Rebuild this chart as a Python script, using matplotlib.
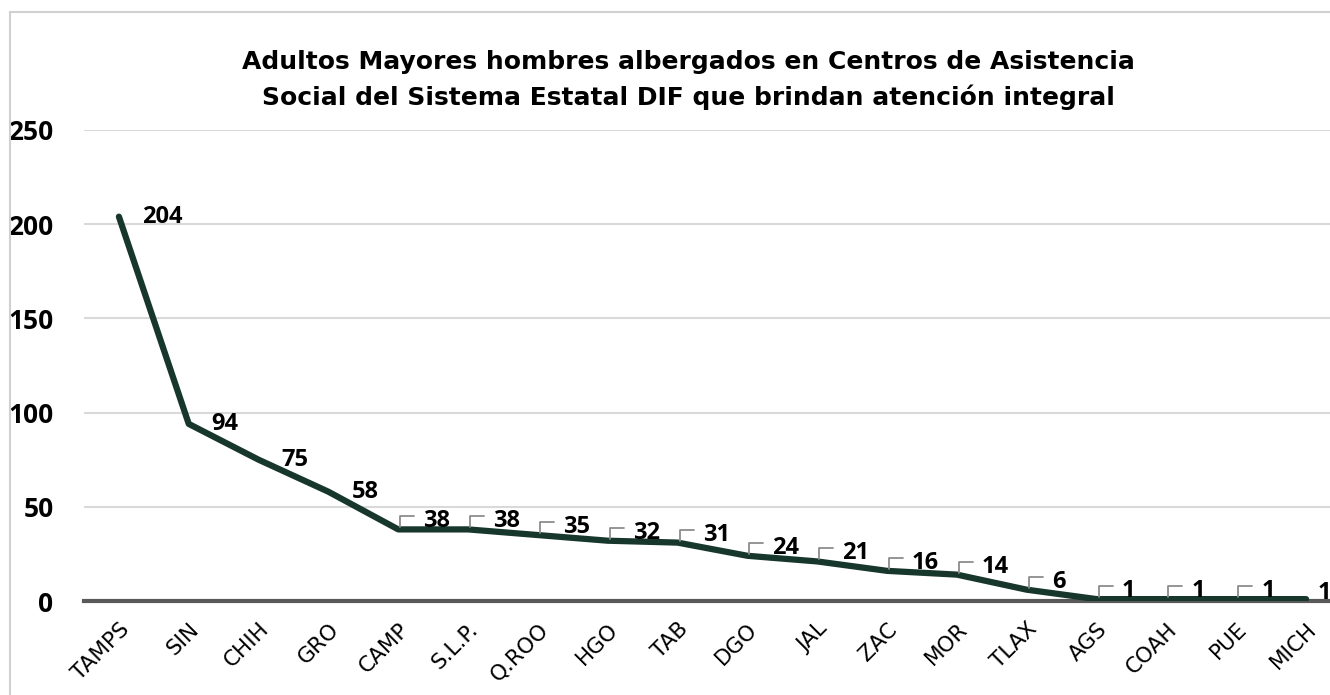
import matplotlib.pyplot as plt
from matplotlib.patches import Rectangle
from matplotlib.transforms import offset_copy

# datos
estados = ["TAMPS", "SIN", "CHIH", "GRO", "CAMP", "S.L.P.", "Q.ROO", "HGO", "TAB",
           "DGO", "JAL", "ZAC", "MOR", "TLAX", "AGS", "COAH", "PUE", "MICH"]
hombres = [204, 94, 75, 58, 38, 38, 35, 32, 31, 24, 21, 16, 14, 6, 1, 1, 1, 1]
yticks = [0, 50, 100, 150, 200, 250]

titulo = ("Adultos Mayores hombres albergados en Centros de Asistencia\n"
          "Social del Sistema Estatal DIF que brindan atención integral")

verde = "#17372d"

fig = plt.figure(figsize=(13.3, 6.95), dpi=100)
ax = fig.add_axes([84 / 1330, 1 - 601 / 695, (1341 - 84) / 1330, (601 - 130) / 695])

x = list(range(len(estados)))
ax.plot(x, hombres, color=verde, linewidth=4.5, solid_joinstyle="round",
        solid_capstyle="round", zorder=3)

ax.set_xlim(-0.5, len(estados) - 0.5)
ax.set_ylim(0, 250)
ax.set_yticks(yticks)
ax.set_yticklabels([str(t) for t in yticks], fontfamily="Open Sans",
                   fontweight="bold", fontsize=19)
ax.set_xticks(x)
ax.set_xticklabels(estados, rotation=45, ha="right", rotation_mode="anchor",
                   fontfamily="DejaVu Sans", fontsize=15.5)
ax.tick_params(axis="y", length=0, pad=22)
ax.tick_params(axis="x", length=0, pad=13)
ax.grid(axis="y", color="#d9d9d9", linewidth=1.5)
ax.set_axisbelow(True)
for s in ["top", "right", "left"]:
    ax.spines[s].set_visible(False)
ax.spines["bottom"].set_color("#595959")
ax.spines["bottom"].set_linewidth(3)
ax.spines["bottom"].set_zorder(2)

# etiquetas de datos
for i, v in enumerate(hombres):
    if i < 4:
        ax.annotate(str(v), (i, v), xytext=(23, 0), textcoords="offset pixels",
                    ha="left", va="center", fontfamily="Open Sans",
                    fontweight="bold", fontsize=17, zorder=5)
    elif i < len(hombres) - 1:
        ax.annotate(str(v), (i, v), xytext=(25, 8), textcoords="offset pixels",
                    ha="left", va="center", fontfamily="Open Sans",
                    fontweight="bold", fontsize=17, zorder=5)
        ax.annotate("", xy=(i, v),
                    xycoords=offset_copy(ax.transData, fig=fig, x=2, y=2, units="dots"),
                    xytext=(14, 11), textcoords="offset pixels",
                    arrowprops=dict(arrowstyle="-", color="#8c8c8c", lw=1.3,
                                    shrinkA=0, shrinkB=0,
                                    connectionstyle="angle,angleA=0,angleB=90,rad=0"))
    else:
        ax.annotate(str(v), (i, v), xytext=(12, 6), textcoords="offset pixels",
                    ha="left", va="center", fontfamily="Open Sans",
                    fontweight="bold", fontsize=17, zorder=5)

fig.text(688 / 1330, 1 - 80 / 695, titulo, ha="center", va="center",
         fontfamily="DejaVu Sans", fontweight="bold", fontsize=18, linespacing=1.55)

fig.add_artist(Rectangle((10 / 1330, -0.05), 1.0, 1 - 12 / 695 + 0.05,
                         transform=fig.transFigure, fill=False,
                         edgecolor="#d0d0d0", linewidth=1.5))

fig.savefig("out.png", dpi=100)
